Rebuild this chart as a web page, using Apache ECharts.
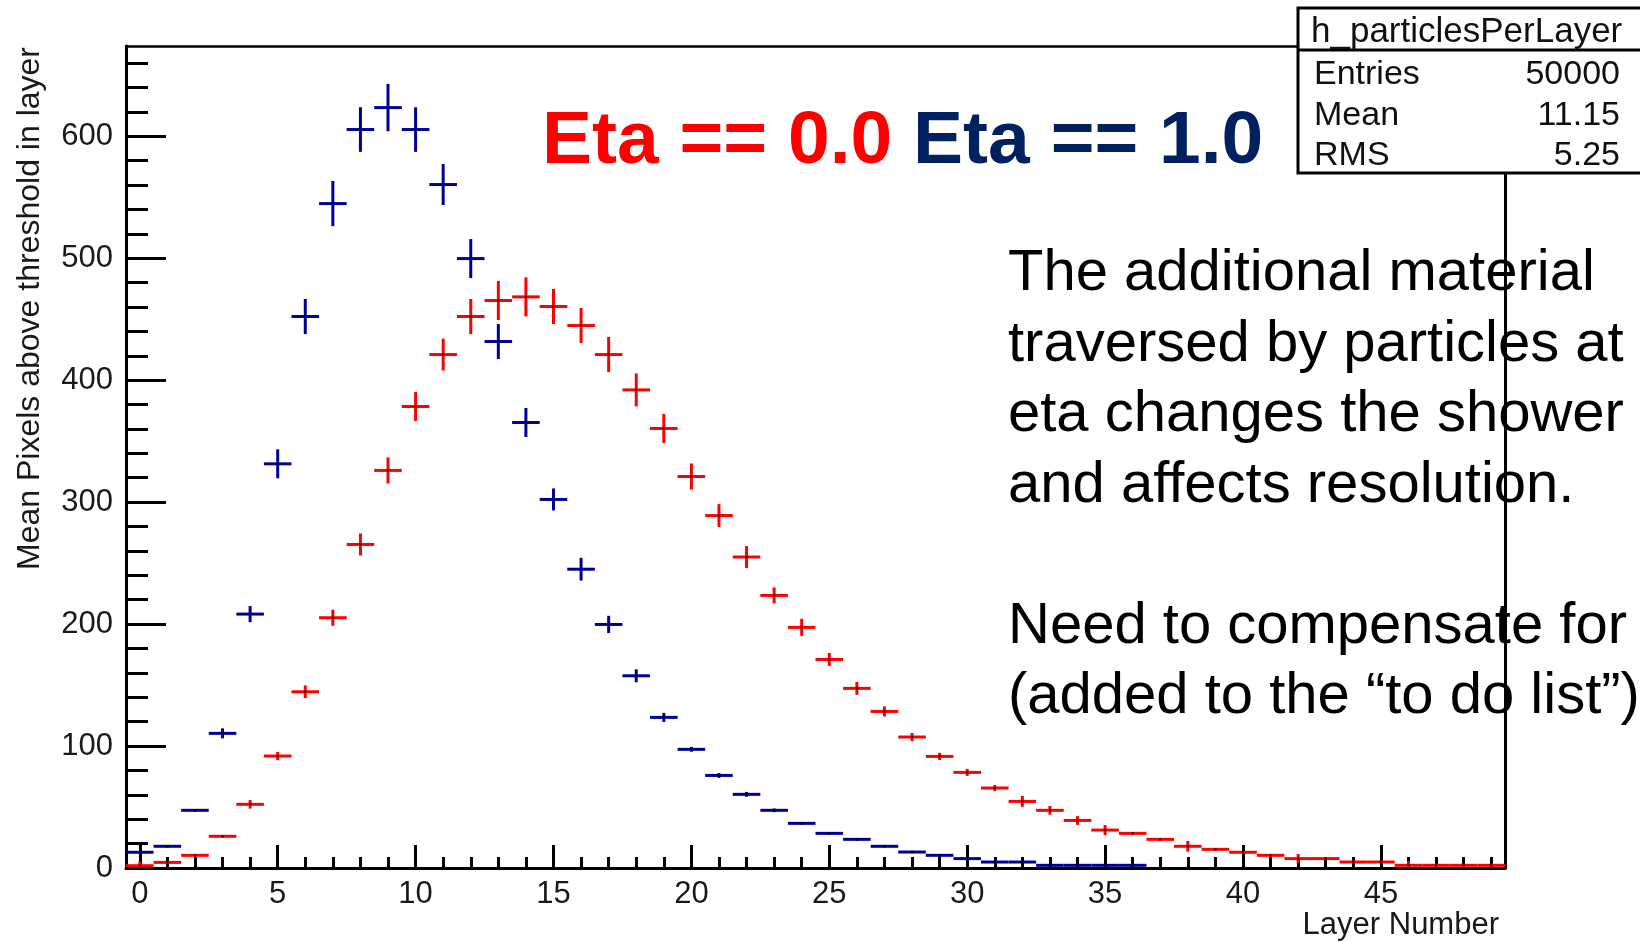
<!DOCTYPE html>
<html>
<head>
<meta charset="utf-8">
<script src="https://cdn.jsdelivr.net/npm/echarts@6/dist/echarts.min.js"></script>
<style>
  html, body { margin: 0; padding: 0; background: #ffffff; }
  #chart { width: 1640px; height: 942px; }
</style>
</head>
<body>
<div id="chart"></div>
<script>
// Layer index (bin centres of the per-layer histogram, bins are 1 layer wide)
const layers = [0, 1, 2, 3, 4, 5, 6, 7, 8, 9,
  10, 11, 12, 13, 14, 15, 16, 17, 18, 19,
  20, 21, 22, 23, 24, 25, 26, 27, 28, 29,
  30, 31, 32, 33, 34, 35, 36, 37, 38, 39,
  40, 41, 42, 43, 44, 45, 46, 47, 48, 49];

// Mean pixels above threshold, eta == 0.0 (red)
const etaZeroMean = [1.9, 4.6, 10.4, 26.0, 52.2, 91.8, 144.5, 205.2, 265.3, 326.0,
  378.4, 421.0, 452.2, 465.3, 468.3, 460.4, 444.8, 421.0, 392.0, 360.4,
  321.0, 289.0, 255.0, 223.5, 197.3, 171.0, 147.3, 128.4, 107.4, 91.5,
  78.4, 65.6, 54.6, 47.3, 39.0, 31.1, 28.4, 23.5, 17.8, 15.3,
  12.9, 10.4, 7.7, 7.7, 4.9, 4.9, 2.2, 2.2, 2.2, 2.2];
const etaZeroErr = [3.5, 1.0, 1.0, 1.0, 3.5, 3.4, 5.2, 6.6, 9.0, 10.7,
  11.9, 13.1, 14.4, 16.0, 16.0, 14.4, 14.4, 14.4, 13.5, 11.9,
  10.7, 9.4, 9.0, 6.6, 7.0, 5.3, 5.3, 4.1, 3.3, 3.0,
  2.9, 2.5, 4.4, 3.6, 3.6, 4.1, 1.0, 1.0, 4.4, 1.0,
  1.0, 1.0, 3.8, 1.0, 1.0, 1.0, 3.3, 1.0, 1.0, 1.0];

// Mean pixels above threshold, eta == 1.0 (blue)
const etaOneMean = [12.9, 17.8, 47.3, 110.4, 208.2, 331.4, 452.2, 544.8, 605.5, 623.5,
  605.5, 560.4, 499.7, 431.7, 365.3, 302.2, 245.0, 199.7, 157.6, 123.5,
  97.3, 75.9, 60.4, 47.3, 36.6, 28.4, 23.5, 17.8, 13.1, 10.4,
  7.7, 4.9, 4.9, 2.2, 2.2, 2.2, 2.2, 0, 0, 0,
  0, 0, 0, 0, 0, 0, 0, 0, 0, 0];
const etaOneErr = [1.0, 1.0, 1.0, 4.1, 6.6, 11.9, 14.4, 18.5, 18.3, 19.4,
  18.3, 16.8, 16.0, 14.4, 11.9, 9.0, 9.3, 7.1, 5.3, 3.7,
  2.0, 2.0, 2.0, 1.5, 1.0, 1.0, 1.0, 1.0, 1.0, 1.0,
  1.0, 1.0, 1.0, 1.0, 1.0, 1.0, 1.0, 0, 0, 0,
  0, 0, 0, 0, 0, 0, 0, 0, 0, 0];

// Axis tick values
const xMajorTicks = [0, 5, 10, 15, 20, 25, 30, 35, 40, 45];
const xMinorTicks = [0, 1, 2, 3, 4, 5, 6, 7, 8, 9, 10, 11, 12, 13, 14, 15, 16, 17, 18, 19,
  20, 21, 22, 23, 24, 25, 26, 27, 28, 29, 30, 31, 32, 33, 34, 35, 36, 37, 38, 39,
  40, 41, 42, 43, 44, 45, 46, 47, 48, 49];
const yMajorTicks = [0, 100, 200, 300, 400, 500, 600];
const yMinorTicks = [20, 40, 60, 80, 120, 140, 160, 180, 220, 240, 260, 280,
  320, 340, 360, 380, 420, 440, 460, 480, 520, 540, 560, 580, 620, 640, 660];

// Stats box contents
const statsTitle = 'h_particlesPerLayer';
const statsRows = [['Entries', '50000'], ['Mean', '11.15'], ['RMS', '5.25']];

const FONT = '"Liberation Sans", Arial, Helvetica, sans-serif';
const RED = '#ff0000';
const BLUE = '#000099';

// Histogram bin drawn ROOT "E" style: horizontal bar over the bin width,
// vertical error bar, and a one-pixel black marker at the centre.
function errorCross(color) {
  return function (params, api) {
    const x = api.value(0), y = api.value(1), e = api.value(2);
    if (!(y > 0)) return null;
    const l = api.coord([x - 0.5, y]);
    const r = api.coord([x + 0.5, y]);
    const t = api.coord([x, y + e]);
    const b = api.coord([x, Math.max(0, y - e)]);
    const c = api.coord([x, y]);
    return {
      type: 'group',
      children: [
        { type: 'line', shape: { x1: l[0], y1: l[1], x2: r[0], y2: r[1] },
          style: { stroke: color, lineWidth: 3 } },
        { type: 'line', shape: { x1: t[0], y1: t[1], x2: b[0], y2: b[1] },
          style: { stroke: color, lineWidth: 3 } },
        { type: 'rect', shape: { x: c[0] - 1, y: c[1] - 1, width: 2, height: 2 },
          style: { fill: '#000000' } }
      ]
    };
  };
}

const chart = echarts.init(document.getElementById('chart'), null, { renderer: 'canvas' });

const tickLabel = { fontFamily: FONT, fontSize: 31, color: '#1a1a1a' };

const option = {
  backgroundColor: '#ffffff',
  animation: false,
  grid: { left: 126, right: 135, top: 46, bottom: 74, containLabel: false },
  xAxis: [
    {
      type: 'value', min: -0.5, max: 49.5, position: 'bottom',
      axisLine: { show: true, onZero: false, lineStyle: { color: '#000', width: 3 } },
      axisTick: { show: true, inside: true, length: 23, customValues: xMajorTicks,
                  lineStyle: { color: '#000', width: 3 } },
      axisLabel: Object.assign({ customValues: xMajorTicks, margin: 11 }, tickLabel),
      splitLine: { show: false }
    },
    {
      type: 'value', min: -0.5, max: 49.5, position: 'bottom', offset: 0,
      axisLine: { show: false, onZero: false },
      axisTick: { show: true, inside: true, length: 11, customValues: xMinorTicks,
                  lineStyle: { color: '#000', width: 3 } },
      axisLabel: { show: false },
      splitLine: { show: false }
    },
    {
      type: 'value', min: -0.5, max: 49.5, position: 'top', offset: 0,
      axisLine: { show: true, onZero: false, lineStyle: { color: '#000', width: 2.5 } },
      axisTick: { show: false }, axisLabel: { show: false }, splitLine: { show: false }
    }
  ],
  yAxis: [
    {
      type: 'value', min: 0, max: 674, position: 'left',
      axisLine: { show: true, onZero: false, lineStyle: { color: '#000', width: 3 } },
      axisTick: { show: true, inside: true, length: 40, customValues: yMajorTicks,
                  lineStyle: { color: '#000', width: 3 } },
      axisLabel: Object.assign({ customValues: yMajorTicks, margin: 13 }, tickLabel),
      splitLine: { show: false }
    },
    {
      type: 'value', min: 0, max: 674, position: 'left', offset: 0,
      axisLine: { show: false, onZero: false },
      axisTick: { show: true, inside: true, length: 22, customValues: yMinorTicks,
                  lineStyle: { color: '#000', width: 3 } },
      axisLabel: { show: false },
      splitLine: { show: false }
    },
    {
      type: 'value', min: 0, max: 674, position: 'right', offset: 0,
      axisLine: { show: true, onZero: false, lineStyle: { color: '#000', width: 3 } },
      axisTick: { show: false }, axisLabel: { show: false }, splitLine: { show: false }
    }
  ],
  series: [
    {
      name: 'Eta == 0.0', type: 'custom', xAxisIndex: 0, yAxisIndex: 0, clip: true,
      renderItem: errorCross(RED),
      data: layers.map((l, i) => [l, etaZeroMean[i], etaZeroErr[i]]),
      z: 5
    },
    {
      name: 'Eta == 1.0', type: 'custom', xAxisIndex: 0, yAxisIndex: 0, clip: true,
      renderItem: errorCross(BLUE),
      data: layers.map((l, i) => [l, etaOneMean[i], etaOneErr[i]]),
      z: 6
    }
  ],
  graphic: [
    // axis titles
    {
      type: 'text', x: 30, y: 47, rotation: Math.PI / 2, z: 100,
      style: { text: 'Mean Pixels above threshold in layer', font: '32px ' + FONT,
               fill: '#1a1a1a', align: 'right', verticalAlign: 'middle' }
    },
    {
      type: 'text', x: 1499, y: 925, z: 100,
      style: { text: 'Layer Number', font: '31px ' + FONT, fill: '#1a1a1a',
               align: 'right', verticalAlign: 'middle' }
    },
    // statistics box
    {
      type: 'rect', z: 100,
      shape: { x: 1298, y: 8, width: 400, height: 165 },
      style: { fill: '#ffffff', stroke: '#000', lineWidth: 3 }
    },
    {
      type: 'line', z: 101,
      shape: { x1: 1298, y1: 50, x2: 1640, y2: 50 },
      style: { stroke: '#000', lineWidth: 3 }
    },
    {
      type: 'text', x: 1311, y: 32, z: 102,
      style: { text: statsTitle, font: '35px ' + FONT, fill: '#111',
               align: 'left', verticalAlign: 'middle' }
    },
    ...statsRows.flatMap((row, k) => [
      { type: 'text', x: 1314, y: 75 + k * 40.5, z: 102,
        style: { text: row[0], font: '34px ' + FONT, fill: '#111',
                 align: 'left', verticalAlign: 'middle' } },
      { type: 'text', x: 1620, y: 75 + k * 40.5, z: 102,
        style: { text: row[1], font: '34px ' + FONT, fill: '#111',
                 align: 'right', verticalAlign: 'middle' } }
    ]),
    // headline
    {
      type: 'text', x: 542, y: 142, z: 110,
      style: {
        text: '{r|Eta == 0.0 }{b|Eta == 1.0}',
        verticalAlign: 'middle', align: 'left',
        rich: {
          r: { fill: '#ff0000', fontFamily: FONT, fontWeight: 'bold', fontSize: 75 },
          b: { fill: '#002060', fontFamily: FONT, fontWeight: 'bold', fontSize: 75 }
        }
      }
    },
    // note
    {
      type: 'text', x: 1008, y: 239, z: 90,
      style: {
        text: 'The additional material\ntraversed by particles at\neta changes the shower\nand affects resolution.\n\nNeed to compensate for\n(added to the \u201cto do list\u201d)',
        font: '58px ' + FONT, lineHeight: 70.5, fill: '#000000',
        align: 'left', verticalAlign: 'top'
      }
    }
  ]
};

chart.setOption(option);
</script>
</body>
</html>
